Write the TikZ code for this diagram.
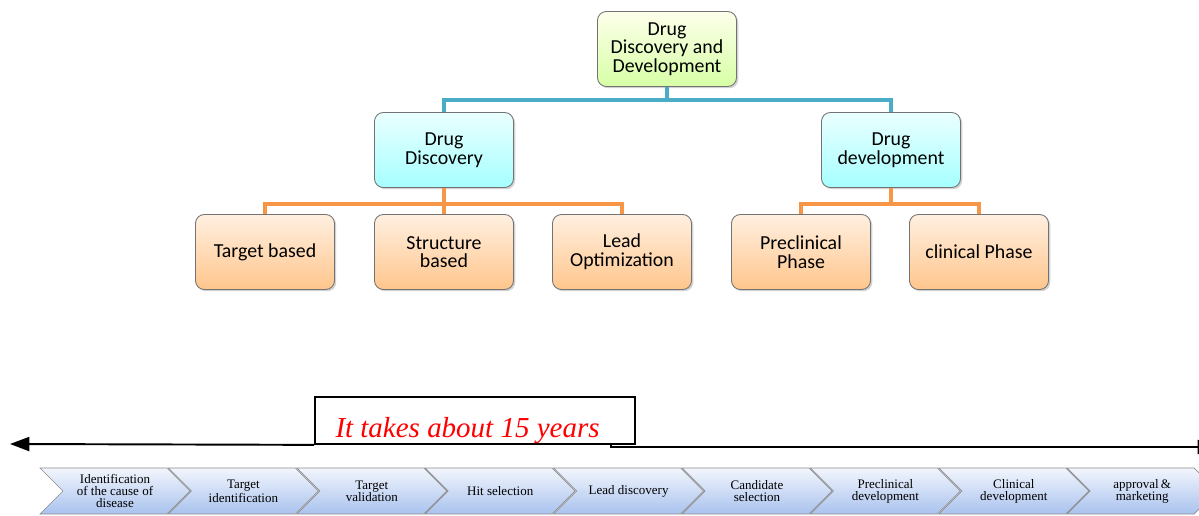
\documentclass[tikz,border=0pt]{standalone}
\usepackage{fontspec}
\setmainfont{Liberation Serif}
\newfontfamily\boxfont{Carlito}
\usetikzlibrary{shadows,arrows.meta}

\definecolor{teal}{HTML}{4BACC6}
\definecolor{tangerine}{HTML}{F79646}
\definecolor{chevtop}{HTML}{F2F6FD}
\definecolor{chevbot}{HTML}{A9C2EE}

\tikzset{
 box/.style={rectangle, rounded corners=5pt, draw=black!55, line width=0.5pt,
   minimum width=2.78cm, minimum height=1.5cm, align=center, inner sep=1pt,
   font=\boxfont\fontsize{11.3}{10.6}\selectfont,
   drop shadow={shadow xshift=1pt, shadow yshift=-1pt, fill=black!35}},
 greenbox/.style={box, top color=green!8!yellow!8, bottom color=green!45!yellow!35!white},
 bluebox/.style={box, top color=cyan!8, bottom color=cyan!35},
 orangebox/.style={box, top color=orange!12, bottom color=orange!45},
 blueline/.style={draw=teal, line width=2.2pt},
 orangeline/.style={draw=tangerine, line width=2.2pt},
 chevron/.style={draw=black!45, line width=0.4pt, top color=chevtop, bottom color=chevbot},
 chevtext/.style={align=center, font=\fontsize{7.4}{6.8}\selectfont, inner sep=0pt}
}

\begin{document}
\begin{tikzpicture}[x=0.02cm, y=-0.02cm]
 \useasboundingbox (0,0) rectangle (1199,516);

 \node[greenbox] (ddd) at (667,49) {Drug\\Discovery and\\Development};

 \node[bluebox] (disc) at (444,150) {Drug\\Discovery};
 \node[bluebox] (dev) at (891,150) {Drug\\development};

 \node[orangebox] (target) at (265,252) {Target based};
 \node[orangebox] (structure) at (444,252) {Structure\\based};
 \node[orangebox] (lead) at (622,252) {Lead\\Optimization};
 \node[orangebox] (preclin) at (801,252) {Preclinical\\Phase};
 \node[orangebox] (clin) at (979,252) {clinical Phase};

 \draw[blueline] (ddd.south) -- ++(0,13) -| (disc.north);
 \draw[blueline] (ddd.south) -- ++(0,13) -| (dev.north);

 \draw[orangeline] (disc.south) -- ++(0,16) -| (target.north);
 \draw[orangeline] (disc.south) -- (structure.north);
 \draw[orangeline] (disc.south) -- ++(0,16) -| (lead.north);
 \draw[orangeline] (dev.south) -- ++(0,16) -| (preclin.north);
 \draw[orangeline] (dev.south) -- ++(0,16) -| (clin.north);

 % time line
 \node[draw, line width=1pt, minimum width=6.4cm, minimum height=0.94cm, inner sep=0pt,
   text=red, font=\itshape\fontsize{16.5}{16.5}\selectfont] (years) at (475,420.5)
   {\raisebox{-9.4pt}[0pt][0pt]{\kern-8.5pt It takes about 15 years}};
 \coordinate (step) at (611,444);
 \draw[line width=1.1pt, -{Triangle[length=11pt,width=8pt]}] (years.south west) -- (10,444);
 \draw[line width=1.1pt, -{Triangle[length=11pt,width=8pt]}] (step) -- ++(0,3) -- (1217,447);

 % stages
 \foreach \i/\txt in {0/{Identification\\of the cause of\\disease},
   1/{Target\\identification}, 2/{Target\\validation}, 3/{Hit selection},
   4/{Lead discovery}, 5/{Candidate\\selection}, 6/{Preclinical\\development},
   7/{Clinical\\development}, 8/{approval\,\&\\marketing}} {
   \pgfmathsetmacro{\xl}{40+128.4*\i}
   \path[chevron] (\xl,468) -- ++(127,0) -- ++(23,23) -- ++(-23,23) -- ++(-127,0)
     -- ++(23,-23) -- cycle;
   \node[chevtext] (c\i) at (\xl+75,491) {\txt};
 }
\end{tikzpicture}
\end{document}
